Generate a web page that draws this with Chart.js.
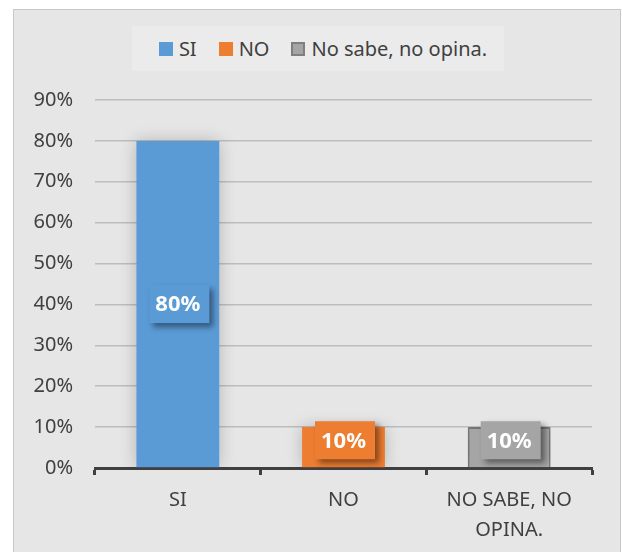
<!DOCTYPE html>
<html>
<head>
<meta charset="utf-8">
<script src="https://cdn.jsdelivr.net/npm/chart.js@4/dist/chart.umd.min.js"></script>
<style>
  body { margin: 0; background: #fff; }
  #wrap { position: relative; width: 622px; height: 552px; overflow: hidden; }
  #frame {
    position: absolute; left: 13px; top: 9px; width: 606px; height: 580px;
    background: #e6e6e6; border: 1.5px solid #c8c8c8;
  }
  #legend {
    position: absolute; left: 132px; top: 26px; width: 372px; height: 45px;
    background: #ebebeb; display: flex; align-items: center; justify-content: center;
    padding-left: 10px; box-sizing: border-box;
    font-family: "Noto Sans", sans-serif; font-size: 20px; color: #404040;
  }
  .item { display: flex; align-items: center; margin-right: 22px; }
  .item:last-child { margin-right: 0; }
  .sw { width: 14px; height: 14px; margin-right: 6px; box-sizing: border-box; }
  canvas { position: absolute; left: 0; top: 0; }
</style>
</head>
<body>
<div id="wrap">
  <div id="frame"></div>
  <div id="legend"></div>
  <canvas id="chart" width="622" height="552"></canvas>
</div>
<script>
const categories = [['SI'], ['NO'], ['NO SABE, NO', 'OPINA.']];
const legendLabels = ['SI', 'NO', 'No sabe, no opina.'];
const values = [80, 10, 10];
const yTicks = [0, 10, 20, 30, 40, 50, 60, 70, 80, 90];

const barColors = ['#5b9bd5', '#ed7d31', '#a5a5a5'];
const barBorders = ['#5b9bd5', '#ed7d31', '#7f7f7f'];
const font = '"Noto Sans", sans-serif';
const textColor = '#404040';

// html legend
const legend = document.getElementById('legend');
legendLabels.forEach((label, i) => {
  const item = document.createElement('div');
  item.className = 'item';
  const sw = document.createElement('span');
  sw.className = 'sw';
  sw.style.background = barColors[i];
  if (i === 2) sw.style.border = '2px solid ' + barBorders[i];
  const txt = document.createElement('span');
  txt.textContent = label;
  item.appendChild(sw);
  item.appendChild(txt);
  legend.appendChild(item);
});

// soft halo behind the bars
const barShadow = {
  id: 'barShadow',
  beforeDatasetsDraw(chart) {
    const ctx = chart.ctx;
    ctx.save();
    ctx.shadowColor = 'rgba(0,0,0,0.22)';
    ctx.shadowBlur = 16;
  },
  afterDatasetsDraw(chart) {
    chart.ctx.restore();
  }
};

// boxed value labels
const valueLabels = {
  id: 'valueLabels',
  afterDraw(chart) {
    const ctx = chart.ctx;
    const meta = chart.getDatasetMeta(0);
    meta.data.forEach((bar, i) => {
      const { x, y, base } = bar.getProps(['x', 'y', 'base'], true);
      const text = values[i] + '%';
      ctx.save();
      ctx.font = 'bold 22px ' + font;
      const w = ctx.measureText(text).width + 15;
      const h = 38;
      const cy = Math.min((y + base) / 2, base - 8 - h / 2);
      const cx = x + 1.5;
      ctx.shadowColor = 'rgba(0,0,0,0.45)';
      ctx.shadowBlur = 6;
      ctx.shadowOffsetX = 4;
      ctx.shadowOffsetY = 4;
      ctx.fillStyle = barColors[i];
      ctx.fillRect(cx - w / 2, cy - h / 2, w, h);
      ctx.shadowColor = 'transparent';
      ctx.fillStyle = '#fff';
      ctx.textAlign = 'center';
      ctx.textBaseline = 'middle';
      ctx.fillText(text, cx - 1.5, cy + 1);
      ctx.restore();
    });
  }
};

new Chart(document.getElementById('chart'), {
  type: 'bar',
  data: {
    labels: categories,
    datasets: [{
      data: values,
      backgroundColor: barColors,
      borderColor: barBorders,
      borderWidth: [0, 0, 2],
      categoryPercentage: 1,
      barPercentage: 0.5
    }]
  },
  plugins: [barShadow, valueLabels],
  options: {
    responsive: false,
    animation: false,
    devicePixelRatio: 1,
    layout: { padding: { top: 100, right: 30, bottom: 0, left: 0 } },
    plugins: {
      legend: { display: false },
      tooltip: { enabled: false }
    },
    scales: {
      x: {
        grid: {
          display: true, drawOnChartArea: false, offset: true,
          tickLength: 7, tickColor: textColor, tickWidth: 3
        },
        border: { display: true, color: textColor, width: 3 },
        ticks: {
          color: textColor, padding: 10, maxRotation: 0, autoSkip: false,
          font: { family: font, size: 20, lineHeight: 1.5 }
        },
        afterFit: s => { s.height = 84; }
      },
      y: {
        min: 0,
        max: 90,
        afterBuildTicks: s => { s.ticks = yTicks.map(v => ({ value: v })); },
        grid: { color: '#bdbdbd', lineWidth: 1.5, drawTicks: false },
        border: { display: false },
        ticks: {
          color: textColor, padding: 22,
          font: { family: font, size: 20 },
          callback: v => v + '%'
        },
        afterFit: s => { s.width = 95; }
      }
    }
  }
});
</script>
</body>
</html>
